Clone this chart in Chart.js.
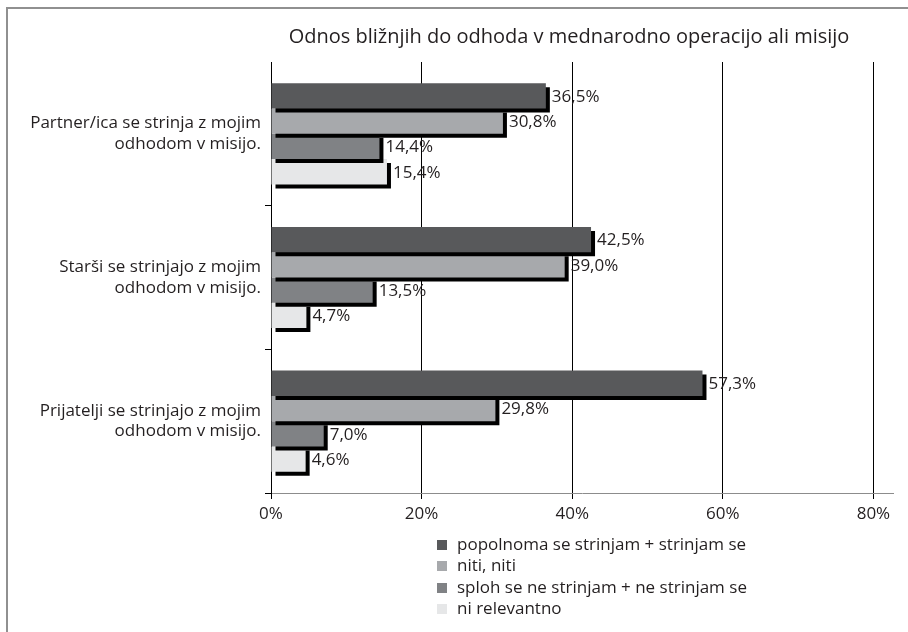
<!DOCTYPE html>
<html>
<head>
  <meta charset="UTF-8">
  <title>Odnos bližnjih do odhoda</title>
  <script src="https://cdn.jsdelivr.net/npm/chart.js"></script>
  <style>
    body { margin: 0; background: #fff; }
    #wrap { position: relative; width: 908px; height: 632px; }
    #frame { position: absolute; left: 6px; top: 7px; right: 0; bottom: 0;
             border-left: 2px solid #909090; border-top: 2px solid #909090; pointer-events: none; }
    #legend { position: absolute; left: 437px; top: 533px; font: 17px "Open Sans", sans-serif; color: #231f20; }
    #legend div { height: 21.3px; line-height: 21px; white-space: nowrap; }
    #legend span { display: inline-block; width: 10px; height: 10px; margin-right: 10px; vertical-align: 0px; }
  </style>
</head>
<body>
  <div id="wrap">
    <canvas id="chart" width="908" height="632"></canvas>
    <div id="legend"></div>
    <div id="frame"></div>
  </div>

  <script>
    const title = 'Odnos bližnjih do odhoda v mednarodno operacijo ali misijo';
    const categories = [
      ['Partner/ica se strinja z mojim', 'odhodom v misijo.'],
      ['Starši se strinjajo z mojim', 'odhodom v misijo.'],
      ['Prijatelji se strinjajo z mojim', 'odhodom v misijo.']
    ];
    const seriesNames = [
      'popolnoma se strinjam + strinjam se',
      'niti, niti',
      'sploh se ne strinjam + ne strinjam se',
      'ni relevantno'
    ];
    const agree = [36.5, 42.5, 57.3];
    const neither = [30.8, 39.0, 29.8];
    const disagree = [14.4, 13.5, 7.0];
    const notRelevant = [15.4, 4.7, 4.6];
    const xTicks = [0, 20, 40, 60, 80];

    const colors = ['#58595b', '#a7a9ac', '#808285', '#e6e7e8'];
    const FONT = '"Open Sans", sans-serif';
    const INK = '#231f20';

    const fmt = v => v.toFixed(1).replace('.', ',') + '%';

    // black drop shadow under every bar, like the original
    const barShadow = {
      id: 'barShadow',
      beforeDatasetDraw(chart) {
        const c = chart.ctx;
        c.save();
        c.shadowColor = '#000';
        c.shadowOffsetX = 4;
        c.shadowOffsetY = 4;
        c.shadowBlur = 0;
      },
      afterDatasetDraw(chart) { chart.ctx.restore(); }
    };

    const valueLabels = {
      id: 'valueLabels',
      afterDatasetsDraw(chart) {
        const c = chart.ctx;
        c.save();
        c.font = '17px ' + FONT;
        c.fillStyle = INK;
        c.textAlign = 'left';
        c.textBaseline = 'middle';
        chart.data.datasets.forEach((ds, i) => {
          chart.getDatasetMeta(i).data.forEach((bar, j) => {
            c.fillText(fmt(ds.data[j]), bar.x + 6, bar.y + 1);
          });
        });
        c.restore();
      }
    };

    // title centred over the plot area
    const plotTitle = {
      id: 'plotTitle',
      afterDraw(chart) {
        const c = chart.ctx;
        c.save();
        c.font = '20px ' + FONT;
        c.fillStyle = INK;
        c.textAlign = 'center';
        c.textBaseline = 'middle';
        c.fillText(title, 569, 37);
        c.restore();
      }
    };

    const datasets = [agree, neither, disagree, notRelevant].map((d, i) => ({
      label: seriesNames[i],
      data: d,
      backgroundColor: colors[i],
      borderWidth: 0,
      categoryPercentage: 0.704,
      barPercentage: 1
    }));

    new Chart(document.getElementById('chart'), {
      type: 'bar',
      data: { labels: categories, datasets: datasets },
      plugins: [barShadow, valueLabels, plotTitle],
      options: {
        indexAxis: 'y',
        responsive: false,
        animation: false,
        layout: { padding: { top: 62, right: 15, bottom: 109, left: 0 } },
        plugins: { legend: { display: false }, tooltip: { enabled: false }, title: { display: false } },
        scales: {
          x: {
            min: 0,
            max: 82.6,
            afterBuildTicks(scale) { scale.ticks = xTicks.map(v => ({ value: v })); },
            afterFit(scale) { scale.height = 30; },
            ticks: { callback: v => v + '%', font: { family: FONT, size: 17 }, color: INK, padding: 5, maxRotation: 0 },
            grid: { color: '#000', lineWidth: 1, tickLength: 6 },
            border: { color: '#8c8c8c', width: 1 }
          },
          y: {
            afterFit(scale) { scale.width = 271; },
            ticks: { font: { family: FONT, size: 17 }, color: INK, padding: 4 },
            grid: { drawOnChartArea: false, tickLength: 6, color: ctx => ctx.index === 0 ? 'rgba(0,0,0,0)' : '#000' },
            border: { color: '#000', width: 1 }
          }
        }
      }
    });

    const legend = document.getElementById('legend');
    seriesNames.forEach((name, i) => {
      const row = document.createElement('div');
      const box = document.createElement('span');
      box.style.background = colors[i];
      row.appendChild(box);
      row.appendChild(document.createTextNode(name));
      legend.appendChild(row);
    });
  </script>
</body>
</html>
